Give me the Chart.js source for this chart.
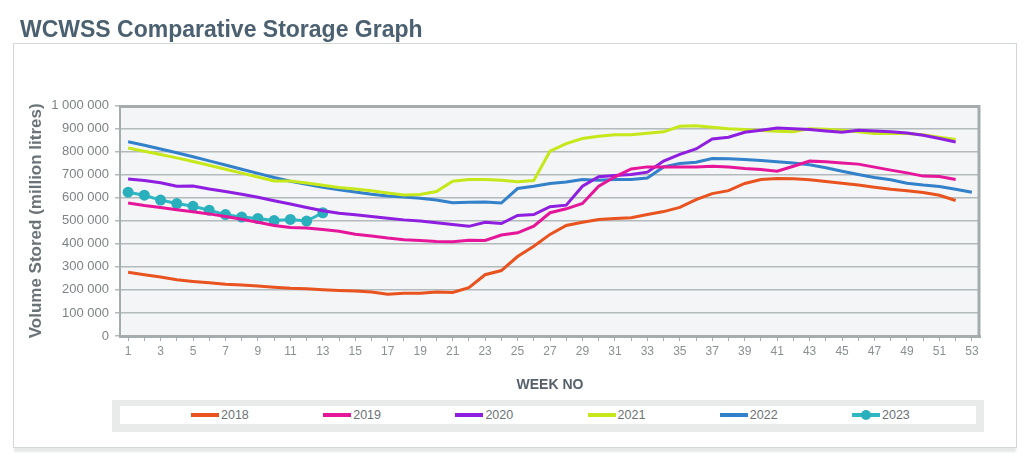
<!DOCTYPE html>
<html>
<head>
<meta charset="utf-8">
<title>WCWSS Comparative Storage Graph</title>
<script src="https://cdn.jsdelivr.net/npm/chart.js@4.4.0/dist/chart.umd.min.js"></script>
<style>
    html, body { margin: 0; padding: 0; background: #ffffff; }
    #wrap { position: relative; width: 1024px; height: 459px; overflow: hidden; }
    #frame {
        position: absolute; left: 13px; top: 43px; width: 1002px; height: 403px;
        border: 1.5px solid #d3d7d8; box-shadow: 0 5px 2px -1px #e6e8e8;
    }
    #chart { position: absolute; left: 0; top: 0; }
    #legend-band {
        position: absolute; left: 112px; top: 400px; width: 872px; height: 32px;
        background: #e9eaea;
    }
    #legend-box {
        position: absolute; left: 8px; top: 6px; width: 856px; height: 18px;
        background: #ffffff;
    }
    .item { position: absolute; top: 0; height: 18px; font: 12.5px "Liberation Sans", Arial, sans-serif; color: #6b7275; }
    .item .swatch { position: absolute; left: 0; top: 7px; width: 28px; height: 4px; }
    .item .dot { position: absolute; left: 9px; top: 4px; width: 10px; height: 10px; border-radius: 50%; }
    .item .txt { position: absolute; left: 30px; top: 1px; line-height: 16px; }
</style>
</head>
<body>
<div id="wrap">
    <div id="frame"></div>
    <canvas id="chart" width="1024" height="459"></canvas>
    <div id="legend-band"><div id="legend-box"></div></div>
</div>
<script>
// Week numbers on the x axis
const weeks = Array.from({ length: 53 }, (_, i) => String(i + 1));

// Storage volumes per week, in million litres
const y2018 = [277, 266, 256, 244, 237, 231, 225, 221, 217, 212, 207, 205, 201, 198, 195, 191, 181, 186, 186, 191,
    189, 210, 266, 284, 345, 390, 441, 480, 494, 506, 510, 513, 527, 540, 558, 592, 618, 631, 662, 679,
    684, 682, 678, 671, 663, 655, 646, 637, 630, 623, 611, 588].map(v => v * 1000);
const y2019 = [577, 566, 558, 548, 539, 530, 519, 507, 494, 480, 471, 469, 462, 455, 442, 434, 425, 418, 415, 410,
    409, 416, 415, 438, 448, 477, 535, 552, 575, 650, 691, 725, 734, 734, 734, 734, 737, 733, 727, 723,
    715, 737, 759, 756, 751, 746, 733, 720, 708, 694, 692, 679].map(v => v * 1000);
const y2020 = [681, 675, 665, 650, 651, 638, 627, 615, 602, 587, 573, 558, 544, 533, 526, 519, 511, 504, 499, 492,
    484, 476, 494, 488, 523, 527, 561, 568, 650, 691, 697, 701, 711, 759, 788, 812, 855, 863, 884, 893,
    903, 900, 896, 890, 884, 893, 890, 886, 881, 871, 857, 842].map(v => v * 1000);
const y2021 = [816, 802, 788, 773, 757, 741, 724, 707, 690, 673, 673, 664, 654, 645, 638, 630, 621, 612, 614, 627,
    672, 679, 679, 676, 670, 675, 802, 835, 857, 867, 873, 874, 880, 886, 910, 913, 906, 900, 896, 892,
    889, 887, 900, 897, 893, 886, 879, 880, 879, 873, 863, 853].map(v => v * 1000);
const y2022 = [843, 828, 812, 795, 778, 760, 742, 724, 706, 688, 672, 659, 646, 635, 625, 615, 608, 603, 598, 590,
    578, 581, 582, 577, 640, 650, 662, 668, 679, 676, 679, 679, 686, 734, 749, 754, 770, 769, 766, 762,
    756, 751, 743, 730, 715, 701, 688, 678, 663, 655, 649, 637, 624].map(v => v * 1000);
const y2023 = [624, 611, 590, 575, 563, 546, 527, 516, 510, 501, 506, 499, 535].map(v => v * 1000);

const yearLabels = ['2018', '2019', '2020', '2021', '2022', '2023'];
const yearColors = ['#e8531f', '#e6169b', '#8e1ee0', '#c6e81a', '#3380cb', '#2fb8c4'];
const yearSeries = [y2018, y2019, y2020, y2021, y2022, y2023];

const axisGray = '#a4acae';

// Spaces as thousands separator, e.g. 1 000 000
function formatVolume(v) {
    return String(v).replace(/\B(?=(\d{3})+(?!\d))/g, ' ');
}

// Plot background and the heavier top/right border
const plotFrame = {
    id: 'plotFrame',
    beforeDraw(chart) {
        const a = chart.chartArea;
        const ctx = chart.ctx;
        ctx.save();
        ctx.fillStyle = '#f3f5f6';
        ctx.fillRect(a.left, a.top, a.right - a.left, a.bottom - a.top);
        ctx.restore();
    },
    beforeDatasetsDraw(chart) {
        const a = chart.chartArea;
        const ctx = chart.ctx;
        ctx.save();
        ctx.strokeStyle = axisGray;
        ctx.lineWidth = 3;
        ctx.beginPath();
        ctx.moveTo(a.left, a.top + 1);
        ctx.lineTo(a.right - 1, a.top + 1);
        ctx.lineTo(a.right - 1, a.bottom);
        ctx.stroke();
        ctx.restore();
    }
};

const datasets = yearLabels.map((label, i) => {
    const isCurrent = label === '2023';
    return {
        label: label,
        data: yearSeries[i],
        borderColor: yearColors[i],
        backgroundColor: yearColors[i],
        borderWidth: 3,
        tension: 0,
        pointRadius: isCurrent ? 5.5 : 0,
        pointHoverRadius: isCurrent ? 6 : 0,
        pointBackgroundColor: isCurrent ? '#2ab0bc' : yearColors[i],
        pointBorderWidth: 0
    };
});

const chart = new Chart(document.getElementById('chart'), {
    type: 'line',
    data: { labels: weeks, datasets: datasets },
    plugins: [plotFrame],
    options: {
        responsive: false,
        animation: false,
        layout: { padding: { left: 20, right: 44, top: 17, bottom: 61 } },
        plugins: {
            legend: { display: false },
            tooltip: { enabled: false },
            title: {
                display: true,
                text: 'WCWSS Comparative Storage Graph',
                align: 'start',
                color: '#4b6070',
                font: { family: '"Liberation Sans", Arial, sans-serif', size: 23, weight: 'bold' },
                padding: { top: 0, bottom: 61 }
            }
        },
        scales: {
            x: {
                type: 'category',
                offset: true,
                grid: { display: true, drawOnChartArea: false, drawTicks: true, tickLength: 5, color: axisGray, offset: false },
                border: { color: axisGray, width: 3 },
                ticks: {
                    autoSkip: false,
                    maxRotation: 0,
                    padding: 3,
                    color: '#8a9092',
                    font: { family: '"Liberation Sans", Arial, sans-serif', size: 12 },
                    callback: function(value, index) {
                        return index % 2 === 0 ? weeks[index] : '';
                    }
                },
                title: {
                    display: true,
                    text: 'WEEK NO',
                    color: '#56616a',
                    font: { family: '"Liberation Sans", Arial, sans-serif', size: 14, weight: 'bold' },
                    padding: { top: 18, bottom: 4 }
                },
                afterFit: function(scale) { scale.height = 62; }
            },
            y: {
                min: 0,
                max: 1000000,
                grid: { color: '#b3babc', lineWidth: 1.5, tickLength: 5, drawTicks: true },
                border: { color: axisGray, width: 2 },
                ticks: {
                    stepSize: 100000,
                    padding: 6,
                    color: '#7d8385',
                    font: { family: '"Liberation Sans", Arial, sans-serif', size: 13 },
                    callback: function(value) { return formatVolume(value); }
                },
                title: {
                    display: true,
                    text: 'Volume Stored (million litres)',
                    color: '#6a7378',
                    font: { family: '"Liberation Sans", Arial, sans-serif', size: 17, weight: 'bold' },
                    padding: { top: 6, bottom: 4 }
                },
                afterFit: function(scale) { scale.width = 100; }
            }
        }
    }
});

// Legend built from the chart's own datasets
const legendBox = document.getElementById('legend-box');
chart.data.datasets.forEach((ds, i) => {
    const item = document.createElement('div');
    item.className = 'item';
    item.style.left = (71 + i * 132.2) + 'px';
    let html = '<div class="swatch" style="background:' + ds.borderColor + '"></div>';
    if (ds.pointRadius > 0) {
        html += '<div class="dot" style="background:' + ds.pointBackgroundColor + '"></div>';
    }
    html += '<div class="txt">' + ds.label + '</div>';
    item.innerHTML = html;
    legendBox.appendChild(item);
});
</script>
</body>
</html>
